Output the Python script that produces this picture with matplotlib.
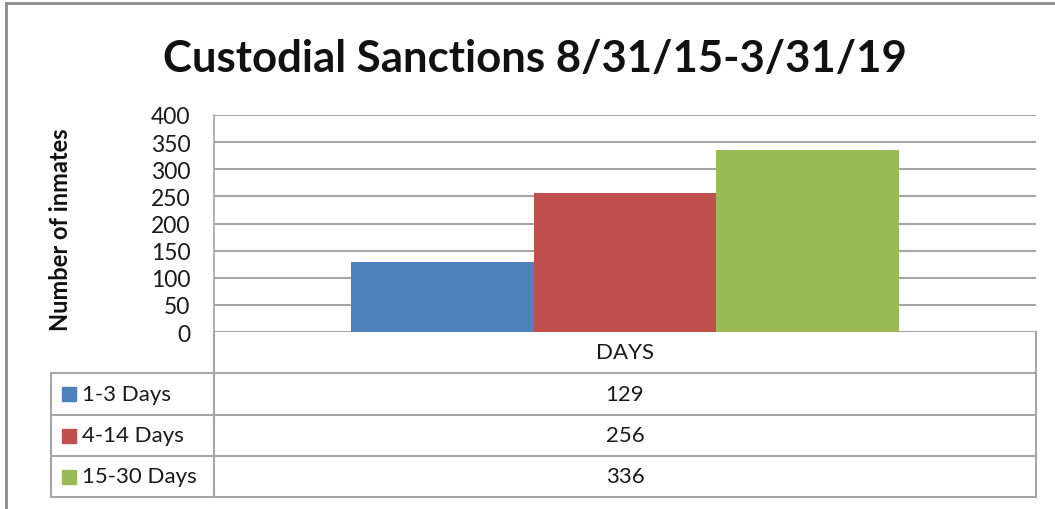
import matplotlib
matplotlib.use("Agg")
import matplotlib.pyplot as plt
from matplotlib.lines import Line2D
from matplotlib.patches import Rectangle

# data
category = "DAYS"
series = ["1-3 Days", "4-14 Days", "15-30 Days"]
values = [129, 256, 336]
colors = ["#4f81bd", "#c0504d", "#9bbb59"]
yticks = [0, 50, 100, 150, 200, 250, 300, 350, 400]

plt.rcParams['font.family'] = ['Lato', 'DejaVu Sans']

W, H = 1055, 510
fig = plt.figure(figsize=(W / 100, H / 100), dpi=100)

def fx(px):
    return px / W

def fy(py):
    return 1 - py / H

# plot area in pixels
L, R, T, B = 214, 1036, 116, 333
ax = fig.add_axes([fx(L), fy(B), fx(R - L), (B - T) / H])

# bars: gap width 50% like excel
n = len(values)
group = 1 / 1.5
bw = group / n
for i, (v, c) in enumerate(zip(values, colors)):
    x = -group / 2 + bw * (i + 0.5)
    ax.bar(x, v, width=bw, color=c, zorder=3, linewidth=0)

txt = "#1a1a1a"
ax.set_xlim(-0.5, 0.5)
ax.set_ylim(0, 400)
ax.set_yticks(yticks)
ax.set_yticklabels([str(t) for t in yticks], fontsize=16.5, color=txt)
ax.tick_params(axis='y', length=0, pad=17)
ax.set_xticks([])
ax.grid(axis='y', color="#a6a6a6", linewidth=1.5, zorder=0)
for s in ax.spines.values():
    s.set_visible(False)
ax.spines['left'].set_visible(True)
ax.spines['left'].set_color("#a6a6a6")
ax.spines['left'].set_linewidth(1.2)

# title and axis label
fig.text(fx(535), fy(59), "Custodial Sanctions 8/31/15-3/31/19", ha='center', va='center',
         fontsize=31.5, fontweight='bold', color="#111111")
fig.text(fx(60), fy(230), "Number of inmates", ha='center', va='center', rotation=90,
         fontsize=17, fontweight='bold', color="#111111")

# data table under the plot
gc = "#a6a6a6"
lw = 1.5
rows = [333, 374, 416, 457, 498]
tl, tr = 51, 1036

def hline(y, x0, x1):
    fig.add_artist(Line2D([fx(x0), fx(x1)], [fy(y), fy(y)], color=gc, linewidth=lw))

def vline(x, y0, y1):
    fig.add_artist(Line2D([fx(x), fx(x)], [fy(y0), fy(y1)], color=gc, linewidth=lw))

hline(rows[1], tl, tr)
hline(rows[2], tl, tr)
hline(rows[3], tl, tr)
hline(rows[4], tl, tr)
vline(L, rows[0], rows[4])
vline(tr, rows[0], rows[4])
vline(tl, rows[1], rows[4])

mid = (L + tr) / 2
fig.text(fx(mid), fy((rows[0] + rows[1]) / 2), category, ha='center', va='center',
         fontsize=16, color=txt)
for i, (name, v, c) in enumerate(zip(series, values, colors)):
    yc = (rows[i + 1] + rows[i + 2]) / 2
    fig.add_artist(Rectangle((fx(62), fy(yc + 7)), fx(14), 14 / H, color=c))
    fig.text(fx(82), fy(yc), name, ha='left', va='center', fontsize=16, color=txt)
    fig.text(fx(mid), fy(yc), str(v), ha='center', va='center', fontsize=16, color=txt)

# outer chart border
fig.add_artist(Line2D([fx(6), fx(W)], [fy(3.5), fy(3.5)], color="#8c8c8c", linewidth=2))
fig.add_artist(Line2D([fx(6), fx(6)], [fy(3.5), fy(H)], color="#8c8c8c", linewidth=2))

fig.savefig("out.png", dpi=100)
